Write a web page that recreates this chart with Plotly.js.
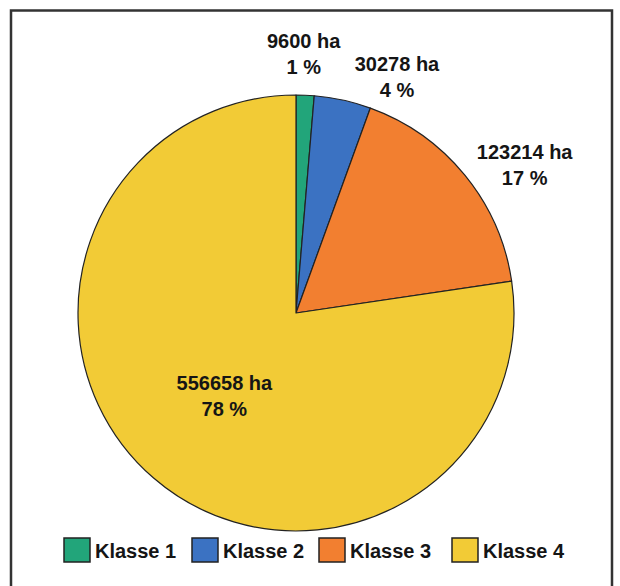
<!DOCTYPE html>
<html>
<head>
<meta charset="utf-8">
<script src="https://cdn.plot.ly/plotly-3.0.1.min.js"></script>
<style>
  html, body { margin: 0; padding: 0; background: #fff; }
  #chart { width: 620px; height: 586px; }
  #chart path.textline { display: none; }
</style>
</head>
<body>
<div id="chart"></div>
<script>
// Data
const categories = ["Klasse 1", "Klasse 2", "Klasse 3", "Klasse 4"];
const areaHa = [9600, 30278, 123214, 556658];
const percentLabels = ["1 %", "4 %", "17 %", "78 %"];
const colors = ["#22a57a", "#3b72c2", "#f27f30", "#f2cb36"];

const W = 620, H = 586;
const px = v => v / W;
const py = v => 1 - v / H;

const font = "Liberation Sans, Arial, sans-serif";
const txtColor = "#151515";

const trace = {
  type: "pie",
  labels: categories,
  values: areaHa,
  text: percentLabels,
  texttemplate: "<b>%{value:d} ha<br>%{text}</b>",
  // the thin first slice gets its label as an annotation above the pie
  textposition: ["none", "outside", "outside", "inside"],
  insidetextorientation: "horizontal",
  textfont: { family: font, size: 20, color: txtColor },
  sort: false,
  direction: "clockwise",
  rotation: 0,
  marker: { colors: colors, line: { color: "#222", width: 1.2 } },
  domain: { x: [px(78), px(514)], y: [py(531), py(95)] },
  showlegend: false,
  hoverinfo: "label+value+percent"
};

const shapes = [
  { type: "rect", xref: "paper", yref: "paper",
    x0: px(11), x1: px(612), y0: py(592), y1: py(10.5),
    line: { color: "#333", width: 2.5 }, fillcolor: "rgba(0,0,0,0)" }
];
const annotations = [
  { xref: "paper", yref: "paper", x: px(304), y: py(54), xanchor: "center", yanchor: "middle",
    text: "<b>" + areaHa[0] + " ha<br>" + percentLabels[0] + "</b>", showarrow: false,
    font: { family: font, size: 20, color: txtColor } }
];

// Manual legend (squares + labels) built from the arrays
const legendX = [64, 192, 319, 452];
categories.forEach((c, i) => {
  shapes.push({ type: "rect", xref: "paper", yref: "paper",
    x0: px(legendX[i]), x1: px(legendX[i] + 26), y0: py(562), y1: py(538),
    fillcolor: colors[i], line: { color: "#222", width: 1.5 } });
  annotations.push({ xref: "paper", yref: "paper",
    x: px(legendX[i] + 29), y: py(550.5), xanchor: "left", yanchor: "middle",
    text: "<b>" + c + "</b>", showarrow: false,
    font: { family: font, size: 20, color: txtColor } });
});

const layout = {
  width: W, height: H,
  margin: { l: 0, r: 0, t: 0, b: 0 },
  paper_bgcolor: "#fff",
  showlegend: false,
  shapes: shapes,
  annotations: annotations
};

Plotly.newPlot("chart", [trace], layout, { displayModeBar: false, staticPlot: true });
</script>
</body>
</html>
